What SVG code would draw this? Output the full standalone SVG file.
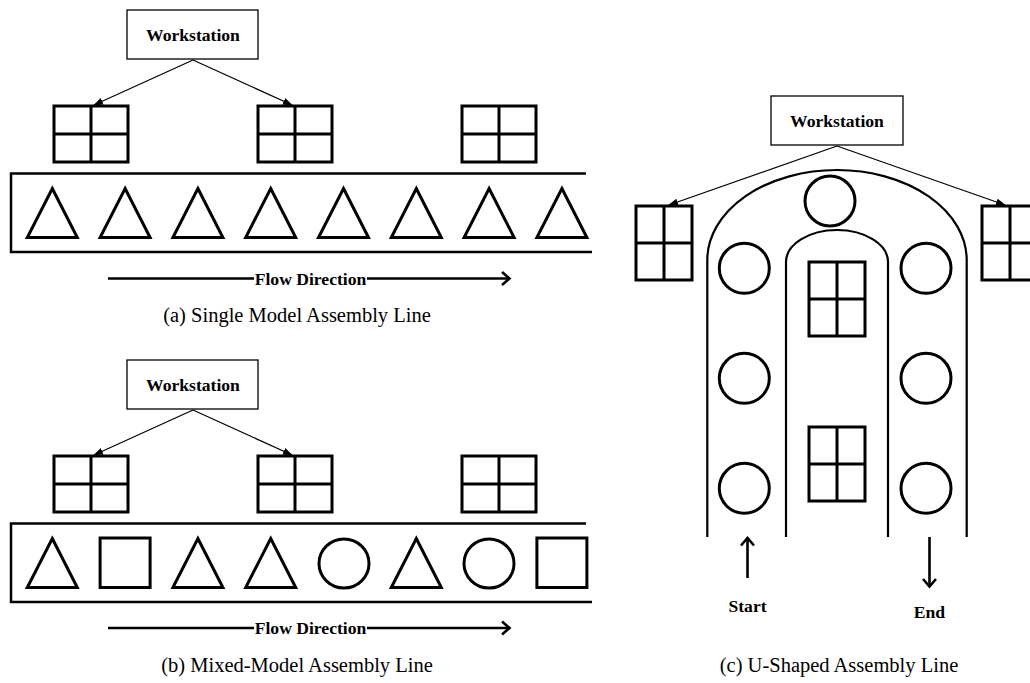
<svg xmlns="http://www.w3.org/2000/svg" width="1030" height="683" viewBox="0 0 1030 683">
<style>
.box{fill:#fff;stroke:#000;stroke-width:1.3}
.lbl{font-family:"Liberation Serif","Times New Roman",serif;font-weight:bold;font-size:17.6px;text-anchor:middle;fill:#000}
.cap{font-family:"Liberation Serif","Times New Roman",serif;font-size:20.5px;text-anchor:middle;fill:#000}
.grid{fill:none;stroke:#000;stroke-width:3}
.part{fill:none;stroke:#000;stroke-width:3;stroke-linejoin:miter}
.conv{fill:none;stroke:#000;stroke-width:2.5}
.arch{fill:none;stroke:#000;stroke-width:2.2}
.thin{fill:none;stroke:#000;stroke-width:1.2}
.flow{fill:none;stroke:#000;stroke-width:2.6}
</style>
<defs>
<marker id="ah" markerUnits="userSpaceOnUse" markerWidth="10" markerHeight="8" refX="9" refY="4" orient="auto"><path d="M0,0.5 L10,4 L0,7.5 z" fill="#000"/></marker>
<marker id="chev" markerUnits="userSpaceOnUse" markerWidth="12" markerHeight="16" refX="9.5" refY="8" orient="auto"><path d="M1.5,1.5 L9,8 L1.5,14.5" fill="none" stroke="#000" stroke-width="2.6"/></marker>
<g id="gl"><rect class="grid" x="0" y="0" width="74" height="56"/><path class="grid" d="M37,0 V56 M0,28 H74"/></g>
<g id="gp"><rect class="grid" x="0" y="0" width="56" height="74"/><path class="grid" d="M28,0 V74 M0,37 H56"/></g>
<path id="tri" class="part" d="M0,0 L25,49 L-25,49 Z"/>
</defs>
<rect width="1030" height="683" fill="#fff"/>

<!-- Panel (a) -->
<g id="a-workstation"><rect class="box" x="127" y="10" width="131" height="49"/><text class="lbl" x="193" y="41">Workstation</text></g>
<g id="a-grid1"><use href="#gl" x="54" y="106"/></g>
<g id="a-grid2"><use href="#gl" x="258" y="106"/></g>
<g id="a-grid3"><use href="#gl" x="462" y="106"/></g>
<g id="a-conveyor"><path class="conv" d="M586,173.5 H11 V252 H592"/>
<use href="#tri" x="52.3" y="188.5"/><use href="#tri" x="125.1" y="188.5"/><use href="#tri" x="197.9" y="188.5"/><use href="#tri" x="270.7" y="188.5"/><use href="#tri" x="343.5" y="188.5"/><use href="#tri" x="416.3" y="188.5"/><use href="#tri" x="489.1" y="188.5"/><use href="#tri" x="561.9" y="188.5"/></g>
<g id="a-flow"><text class="lbl" x="310.5" y="284.5">Flow Direction</text></g>
<text class="cap" x="297" y="322">(a) Single Model Assembly Line</text>

<!-- Panel (b) -->
<g id="b-workstation"><rect class="box" x="127" y="360" width="131" height="49"/><text class="lbl" x="193" y="391">Workstation</text></g>
<g id="b-grid1"><use href="#gl" x="54" y="456"/></g>
<g id="b-grid2"><use href="#gl" x="258" y="456"/></g>
<g id="b-grid3"><use href="#gl" x="462" y="456"/></g>
<g id="b-conveyor"><path class="conv" d="M586,523.5 H11 V602 H592"/>
<use href="#tri" x="52.3" y="538.5"/>
<rect class="part" x="100.1" y="538" width="50" height="49.5"/>
<use href="#tri" x="197.9" y="538.5"/><use href="#tri" x="270.7" y="538.5"/>
<ellipse class="part" cx="344" cy="563.5" rx="25" ry="24.5"/>
<use href="#tri" x="416.3" y="538.5"/>
<ellipse class="part" cx="489" cy="563.5" rx="25" ry="24.5"/>
<rect class="part" x="536.9" y="538" width="50" height="49.5"/></g>
<g id="b-flow"><text class="lbl" x="310.5" y="634">Flow Direction</text></g>
<text class="cap" x="297" y="672">(b) Mixed-Model Assembly Line</text>

<!-- Panel (c) -->
<g id="c-workstation"><rect class="box" x="771" y="96" width="132" height="49"/><text class="lbl" x="837" y="127">Workstation</text></g>
<g id="c-grid-left"><use href="#gp" x="636" y="206"/></g>
<g id="c-grid-right"><use href="#gp" x="982" y="206"/></g>
<g id="c-track"><path class="arch" d="M707.3,537 V260 A129.7,90 0 0 1 966.7,260 V537"/><path class="arch" d="M786,537 V262 A51,32 0 0 1 888,262 V537"/></g>
<g id="c-parts">
<circle class="part" cx="830" cy="201" r="25" stroke-width="2.8"/>
<circle class="part" cx="744.3" cy="268.3" r="25" stroke-width="2.8"/>
<circle class="part" cx="926" cy="268.3" r="25" stroke-width="2.8"/>
<circle class="part" cx="744.3" cy="378.3" r="25" stroke-width="2.8"/>
<circle class="part" cx="926" cy="378.3" r="25" stroke-width="2.8"/>
<circle class="part" cx="744.3" cy="488.3" r="25" stroke-width="2.8"/>
<circle class="part" cx="926" cy="488.3" r="25" stroke-width="2.8"/>
</g>
<g id="c-grid-center1"><use href="#gp" x="809" y="262"/></g>
<g id="c-grid-center2"><use href="#gp" x="809" y="427"/></g>
<g id="c-start"><text class="lbl" x="747.5" y="611.7">Start</text></g>
<g id="c-end"><text class="lbl" x="929.5" y="618.3">End</text></g>
<text class="cap" x="839" y="672">(c) U-Shaped Assembly Line</text>

<!-- Connectors -->
<g id="connectors">
<line class="thin" x1="193" y1="60" x2="94" y2="105" marker-end="url(#ah)"/>
<line class="thin" x1="193" y1="60" x2="292" y2="105" marker-end="url(#ah)"/>
<line class="thin" x1="193" y1="410" x2="94" y2="455" marker-end="url(#ah)"/>
<line class="thin" x1="193" y1="410" x2="292" y2="455" marker-end="url(#ah)"/>
<line class="thin" x1="837" y1="146" x2="669" y2="205" marker-end="url(#ah)"/>
<line class="thin" x1="837" y1="146" x2="1005" y2="205" marker-end="url(#ah)"/>
<line class="flow" x1="108" y1="278.5" x2="254" y2="278.5"/>
<line class="flow" x1="367" y1="278.5" x2="510" y2="278.5" marker-end="url(#chev)"/>
<line class="flow" x1="108" y1="628" x2="254" y2="628"/>
<line class="flow" x1="367" y1="628" x2="510" y2="628" marker-end="url(#chev)"/>
<line class="flow" x1="747.5" y1="578" x2="747.5" y2="537.5" stroke-width="2.4" marker-end="url(#chev)"/>
<line class="flow" x1="929.5" y1="537" x2="929.5" y2="587" stroke-width="2.4" marker-end="url(#chev)"/>
</g>
</svg>
